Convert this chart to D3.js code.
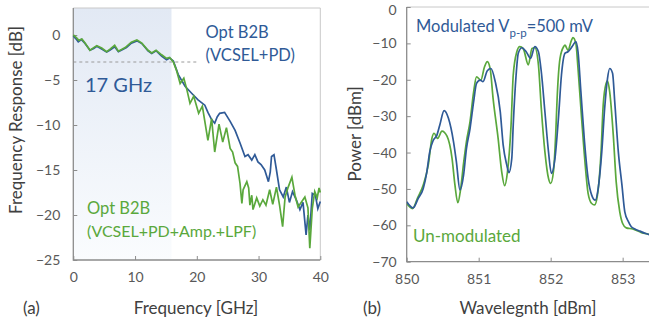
<!DOCTYPE html>
<html>
<head>
<meta charset="utf-8">
<script src="https://cdn.jsdelivr.net/npm/d3@7"></script>
<style>
  body { margin: 0; background: #fff; }
  text { font-family: Lato, "Liberation Sans", sans-serif; }
</style>
</head>
<body>
<svg id="chart" width="649" height="327"></svg>
<script>
// (a) frequency response
var blueFreq = [0,0.4,0.8,1.3,1.9,2.7,3.3,3.8,4.6,5.4,5.9,6.7,7.3,8.0,8.6,9.4,10.3,11.1,12.1,12.7,13.4,14.3,15.1,15.6,16.2,17.0,18.1,19.2,20.2,21.3,21.8,22.4,22.9,23.3,23.7,24.5,25.4,26.2,27.0,27.8,28.3,28.9,29.4,29.9,30.4,31.0,31.6,31.9,32.1,32.5,32.9,33.4,34.0,34.5,35.0,35.5,36.1,36.7,37.2,37.7,38.0,38.3,38.7,39.2,39.6,40.0];
var blueResp = [-0.1,-0.4,-0.75,-0.5,-0.95,-1.7,-1.5,-1.25,-1.55,-1.9,-1.7,-1.3,-1.85,-1.6,-1.4,-0.9,-0.65,-0.95,-1.75,-2.05,-1.75,-2.35,-2.75,-2.55,-2.9,-4.4,-5.7,-6.5,-7.2,-7.8,-8.6,-9.4,-9.8,-9.1,-8.7,-8.6,-9.6,-10.6,-12.0,-13.5,-13.3,-13.9,-13.3,-14.1,-14.4,-15.0,-16.3,-15.2,-13.5,-13.3,-15.0,-17.2,-18.0,-16.9,-18.6,-17.4,-18.3,-19.4,-18.6,-22.2,-20.0,-21.7,-17.6,-17.8,-19.3,-18.5];
var greenFreq = [0,0.5,0.9,1.4,1.9,2.7,3.3,3.8,4.6,5.4,5.9,6.7,7.3,8.4,9.4,10.3,11.1,12.1,12.7,13.4,14.3,15.1,15.6,16.2,16.7,17.3,17.9,18.4,18.9,19.5,20.3,20.9,21.8,22.4,22.9,23.6,24.2,24.8,25.4,25.8,26.2,26.6,27.0,27.3,27.5,28.1,28.4,28.6,28.9,29.1,29.7,30.2,30.7,31.2,31.8,32.3,32.9,33.4,33.9,34.3,34.8,35.4,35.9,36.4,36.9,37.5,38.0,38.3,38.7,39.1,39.5,39.8,40.0];
var greenResp = [0.0,-0.3,-0.6,-0.45,-0.9,-1.7,-1.4,-1.2,-1.45,-1.85,-1.6,-1.15,-1.8,-1.4,-0.8,-0.55,-0.9,-1.7,-2.0,-1.7,-2.2,-2.6,-2.5,-3.0,-3.9,-5.4,-4.8,-6.1,-7.6,-6.8,-8.7,-7.9,-11.7,-9.3,-13.0,-9.9,-11.9,-10.3,-12.6,-13.0,-14.2,-14.6,-16.5,-18.7,-17.2,-16.3,-17.0,-18.9,-17.8,-19.4,-18.1,-19.0,-18.3,-18.9,-17.2,-18.8,-16.9,-18.9,-21.3,-18.0,-16.9,-15.8,-17.8,-19.1,-18.6,-18.0,-19.2,-23.7,-19.3,-17.4,-18.1,-17.0,-17.5];
var freqTicks = [0, 10, 20, 30, 40];
var respTicks = [0, -5, -10, -15, -20, -25];

// (b) optical spectra
var modWave = [850.00,850.09,850.16,850.23,850.28,850.32,850.37,850.42,850.46,850.52,850.58,850.65,850.69,850.74,850.79,850.83,850.88,850.93,850.97,851.02,851.06,851.12,851.17,851.23,851.30,851.34,851.39,851.42,851.46,851.48,851.52,851.55,851.60,851.66,851.72,851.78,851.83,851.87,851.92,851.97,852.01,852.06,852.11,852.15,852.20,852.24,852.28,852.31,852.35,852.38,852.42,852.47,852.52,852.57,852.62,852.66,852.71,852.75,852.79,852.82,852.86,852.89,852.94,852.99,853.03,853.08,853.12,853.17,853.24,853.31,853.38];
var modPower = [-53.5,-55.2,-52.6,-49.9,-45.3,-39.8,-36.6,-35.2,-32.4,-28.5,-30.6,-37.0,-42.5,-50.3,-46.2,-38.9,-33.4,-26.0,-21.0,-20.1,-20.5,-17.5,-16.9,-20.5,-28.8,-37.9,-43.4,-45.5,-41.6,-32.4,-18.7,-12.7,-11.2,-12.3,-14.1,-10.9,-12.3,-17.8,-28.8,-39.8,-45.7,-41.6,-30.0,-18.7,-12.7,-12.3,-11.4,-10.5,-9.5,-12.3,-23.3,-37.0,-47.1,-51.7,-53.1,-49.9,-39.8,-27.9,-19.6,-16.9,-18.2,-26.0,-39.8,-48.9,-56.3,-59.0,-60.4,-61.0,-61.6,-62.2,-62.6];
var unmodWave = [850.00,850.08,850.15,850.23,850.30,850.35,850.38,850.43,850.49,850.56,850.63,850.67,850.71,850.75,850.79,850.83,850.88,850.93,850.97,851.03,851.08,851.12,851.16,851.20,851.27,851.32,851.36,851.40,851.45,851.48,851.53,851.57,851.62,851.69,851.74,851.78,851.83,851.87,851.92,851.97,852.00,852.04,852.07,852.09,852.13,852.18,852.20,852.24,852.29,852.31,852.35,852.38,852.43,852.48,852.52,852.57,852.61,852.65,852.70,852.73,852.77,852.79,852.82,852.87,852.91,852.96,853.00,853.05,853.14,853.26,853.38];
var unmodPower = [-54.0,-55.4,-52.5,-48.9,-43.4,-36.1,-34.7,-36.1,-34.1,-35.5,-41.6,-48.9,-53.8,-49.9,-43.0,-37.0,-31.5,-23.3,-19.2,-20.1,-16.5,-15.0,-17.0,-25.1,-36.1,-45.3,-49.1,-45.3,-32.4,-18.7,-12.3,-10.9,-11.5,-15.9,-11.4,-11.2,-15.9,-27.9,-39.8,-47.1,-48.5,-45.0,-35.0,-25.0,-14.1,-10.9,-10.5,-11.9,-9.1,-8.4,-10.0,-16.9,-30.6,-43.4,-51.2,-54.0,-54.4,-51.7,-39.8,-26.9,-21.0,-20.3,-23.3,-35.2,-48.0,-56.3,-59.5,-60.7,-61.0,-62.0,-62.5];
var waveTicks = [850, 851, 852, 853];
var powerTicks = [0, -10, -20, -30, -40, -50, -60, -70];

var blue = "#2f5a97", green = "#5aa83c";
var svg = d3.select("#chart");

// gradient for the shaded 3-dB band
var grad = svg.append("defs").append("linearGradient")
  .attr("id", "band").attr("x1", 0).attr("y1", 0).attr("x2", 0).attr("y2", 1);
grad.append("stop").attr("offset", "0%").attr("stop-color", "#e2e9f4");
grad.append("stop").attr("offset", "100%").attr("stop-color", "#fafcfe");

function styleAxis(g) {
  g.select(".domain").remove();
  g.selectAll(".tick line").attr("stroke", "#8c8c8c");
  g.selectAll(".tick text").attr("fill", "#595959").style("font-size", "14px");
}

// ---------- panel (a) ----------
var xa = d3.scaleLinear().domain([0, 40]).range([73.3, 320.3]);
var ya = d3.scaleLinear().domain([-25, 3]).range([260, 8]);

svg.append("rect")
  .attr("x", xa(0)).attr("y", ya(3))
  .attr("width", xa(15.9) - xa(0)).attr("height", ya(-25) - ya(3))
  .attr("fill", "url(#band)");

svg.append("line")
  .attr("x1", xa(0)).attr("x2", xa(20.2)).attr("y1", ya(-3)).attr("y2", ya(-3))
  .attr("stroke", "#9a9a9a").attr("stroke-width", 1).attr("stroke-dasharray", "3,3");

// frame
svg.append("path")
  .attr("d", "M" + xa(0) + "," + ya(3) + "H" + xa(40) + "V" + ya(-25))
  .attr("fill", "none").attr("stroke", "#c8c8c8");
svg.append("path")
  .attr("d", "M" + xa(0) + "," + ya(3) + "V" + ya(-25) + "H" + xa(40))
  .attr("fill", "none").attr("stroke", "#8c8c8c").attr("stroke-width", 1.3);

svg.append("g").attr("transform", "translate(0," + ya(-25) + ")")
  .call(d3.axisBottom(xa).tickValues(freqTicks).tickSizeInner(-4).tickSizeOuter(0).tickPadding(12))
  .call(styleAxis);
svg.append("g").attr("transform", "translate(" + xa(0) + ",0)")
  .call(d3.axisLeft(ya).tickValues(respTicks).tickSizeInner(-4).tickSizeOuter(0).tickPadding(13))
  .call(styleAxis);

var lineA = d3.line().x(function (d) { return xa(d[0]); }).y(function (d) { return ya(d[1]); });
svg.append("path")
  .datum(d3.zip(blueFreq, blueResp))
  .attr("d", lineA).attr("fill", "none").attr("stroke", blue).attr("stroke-width", 1.7);
svg.append("path")
  .datum(d3.zip(greenFreq, greenResp))
  .attr("d", lineA).attr("fill", "none").attr("stroke", green).attr("stroke-width", 1.7);

svg.append("text").attr("x", 205.5).attr("y", 38).text("Opt B2B").attr("fill", blue).style("font-size", "16.5px");
svg.append("text").attr("x", 205.5).attr("y", 61).text("(VCSEL+PD)").attr("fill", blue).style("font-size", "16.5px");
svg.append("text").attr("x", 85).attr("y", 92).text("17 GHz").attr("fill", blue).style("font-size", "20px");
svg.append("text").attr("x", 87).attr("y", 214).text("Opt B2B").attr("fill", green).style("font-size", "16.5px");
svg.append("text").attr("x", 87).attr("y", 237).text("(VCSEL+PD+Amp.+LPF)").attr("fill", green).style("font-size", "16px");

svg.append("text").attr("x", 196).attr("y", 314).attr("text-anchor", "middle")
  .text("Frequency [GHz]").attr("fill", "#404040").style("font-size", "17px");
svg.append("text").attr("x", 23).attr("y", 314)
  .text("(a)").attr("fill", "#404040").style("font-size", "17px");
svg.append("text").attr("transform", "translate(22,120) rotate(-90)").attr("text-anchor", "middle")
  .text("Frequency Response [dB]").attr("fill", "#404040").style("font-size", "17px");

// ---------- panel (b) ----------
var xb = d3.scaleLinear().domain([850, 853.38]).range([406.7, 650]);
var yb = d3.scaleLinear().domain([-70, 0]).range([261.7, 7]);

svg.append("path")
  .attr("d", "M" + xb(850) + "," + yb(0) + "H" + xb(853.38) + "V" + yb(-70))
  .attr("fill", "none").attr("stroke", "#c8c8c8");
svg.append("path")
  .attr("d", "M" + xb(850) + "," + yb(0) + "V" + yb(-70) + "H" + xb(853.38))
  .attr("fill", "none").attr("stroke", "#8c8c8c").attr("stroke-width", 1.3);

svg.append("g").attr("transform", "translate(0," + yb(-70) + ")")
  .call(d3.axisBottom(xb).tickValues(waveTicks).tickFormat(d3.format("d")).tickSizeInner(-4).tickSizeOuter(0).tickPadding(12))
  .call(styleAxis);
svg.append("g").attr("transform", "translate(" + xb(850) + ",0)")
  .call(d3.axisLeft(yb).tickValues(powerTicks).tickSizeInner(-4).tickSizeOuter(0).tickPadding(10))
  .call(styleAxis)
  .selectAll(".tick text").filter(function (d) { return d === 0; }).attr("dy", "0.5em");

svg.append("clipPath").attr("id", "clipb").append("rect")
  .attr("x", xb(850)).attr("y", yb(0)).attr("width", xb(853.38) - xb(850)).attr("height", yb(-70) - yb(0));

var lineB = d3.line().curve(d3.curveMonotoneX)
  .x(function (d) { return xb(d[0]); }).y(function (d) { return yb(d[1]); });
svg.append("path")
  .datum(d3.zip(unmodWave, unmodPower)).attr("clip-path", "url(#clipb)")
  .attr("d", lineB).attr("fill", "none").attr("stroke", green).attr("stroke-width", 1.7);
svg.append("path")
  .datum(d3.zip(modWave, modPower)).attr("clip-path", "url(#clipb)")
  .attr("d", lineB).attr("fill", "none").attr("stroke", blue).attr("stroke-width", 1.7);

var mod = svg.append("text").attr("x", 416).attr("y", 32).attr("fill", blue).style("font-size", "16.5px");
mod.append("tspan").text("Modulated V");
mod.append("tspan").attr("dy", 5).style("font-size", "11.5px").text("p-p");
mod.append("tspan").attr("dy", -5).text("=500 mV");
svg.append("text").attr("x", 413).attr("y", 242).text("Un-modulated").attr("fill", green).style("font-size", "17px");

svg.append("text").attr("x", 528).attr("y", 314).attr("text-anchor", "middle")
  .text("Wavelegnth [dBm]").attr("fill", "#404040").style("font-size", "17px");
svg.append("text").attr("x", 363).attr("y", 314)
  .text("(b)").attr("fill", "#404040").style("font-size", "17px");
svg.append("text").attr("transform", "translate(361,134) rotate(-90)").attr("text-anchor", "middle")
  .text("Power [dBm]").attr("fill", "#404040").style("font-size", "17px");
</script>
</body>
</html>
